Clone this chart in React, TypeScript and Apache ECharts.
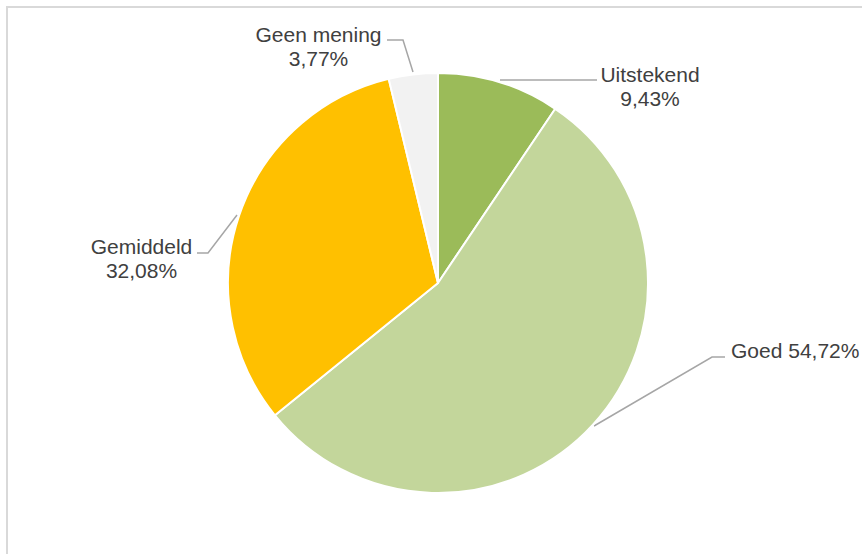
import React, { useEffect, useRef } from "react";
import * as echarts from "echarts";

const categories = ["Uitstekend", "Goed", "Gemiddeld", "Geen mening"];
const values = [9.43, 54.72, 32.08, 3.77];
const colors = ["#9BBB59", "#C3D69B", "#FFC000", "#F2F2F2"];

// label anchor and leader line geometry (layout only)
const labelPos = [
  { x: 650, y: 86, align: "center", line: [[500, 80], [560, 80], [597, 80]] },
  { x: 731, y: 350, align: "left", line: [[594, 426], [712, 357], [725, 357]] },
  { x: 141.5, y: 258.5, align: "center", line: [[237, 215], [208, 253], [197, 253]] },
  { x: 318.5, y: 46, align: "center", line: [[413, 72], [403, 40], [387, 40]] },
];

const fmt = (v: number) => v.toFixed(2).replace(".", ",") + "%";

export default function App() {
  const ref = useRef<HTMLDivElement>(null);
  useEffect(() => {
    if (!ref.current) return;
    const chart = echarts.init(ref.current, null, { renderer: "svg" });
    chart.setOption({
      animation: false,
      backgroundColor: "#ffffff",
      graphic: [
        {
          type: "rect",
          shape: { x: 7, y: 7, width: 900, height: 600 },
          style: { fill: "none", stroke: "#D9D9D9", lineWidth: 2 },
          silent: true,
        },
      ],
      series: [
        {
          type: "pie",
          center: [438, 283],
          radius: 210,
          startAngle: 90,
          clockwise: true,
          data: categories.map((c, i) => ({
            name: c,
            value: values[i],
            itemStyle: { color: colors[i] },
          })),
          itemStyle: { borderColor: "#ffffff", borderWidth: 2 },
          label: {
            show: true,
            position: "outside",
            fontFamily: "Liberation Sans, Arial, sans-serif",
            fontSize: 21,
            lineHeight: 24,
            color: "#404040",
            formatter: (p: any) =>
              p.name === "Goed"
                ? `${p.name} ${fmt(p.value)}`
                : `${p.name}\n${fmt(p.value)}`,
          },
          labelLine: {
            show: true,
            lineStyle: { color: "#A6A6A6", width: 1.5 },
          },
          labelLayout: (params: any) => {
            const lp = labelPos[params.dataIndex];
            return {
              x: lp.x,
              y: lp.y,
              align: lp.align,
              verticalAlign: "middle",
              labelLinePoints: lp.line,
            };
          },
          emphasis: { disabled: true },
        },
      ],
    });
    return () => chart.dispose();
  }, []);
  return (
    <div
      ref={ref}
      style={{ position: "fixed", left: 0, top: 0, width: 862, height: 554 }}
    />
  );
}
